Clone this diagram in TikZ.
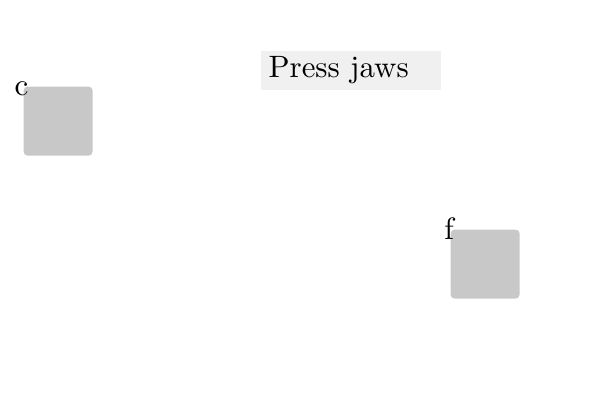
\documentclass[tikz,border=0pt]{standalone}
\usepackage{tikz}
\definecolor{padgray}{HTML}{C8C8C8}
\definecolor{tagbg}{HTML}{F0F0F0}
\begin{document}
\begin{tikzpicture}[x=0.3333pt,y=-0.3333pt,
  font=\fontsize{10.3}{12}\selectfont,
  pad/.style={fill=padgray, rounded corners=1.33pt, minimum size=23pt, inner sep=0pt, anchor=north west},
  tag/.style={fill=tagbg, anchor=north west, minimum height=13pt, text width=54.67pt, inner xsep=2.67pt, inner ysep=0pt, align=left},
  corner/.style={inner sep=0pt, anchor=base}]
\useasboundingbox (0,0) rectangle (600,400);
\node[tag] (press) at (260,50) {Press jaws};
\node[pad] (padc) at (23,86) {};
\node[pad] (padf) at (450,229) {};
\node[corner] (labc) at ([shift={(-1.5,9.5)}]padc.north west) {c};
\node[corner] (labf) at ([shift={(-1,10)}]padf.north west) {f};
\end{tikzpicture}
\end{document}
